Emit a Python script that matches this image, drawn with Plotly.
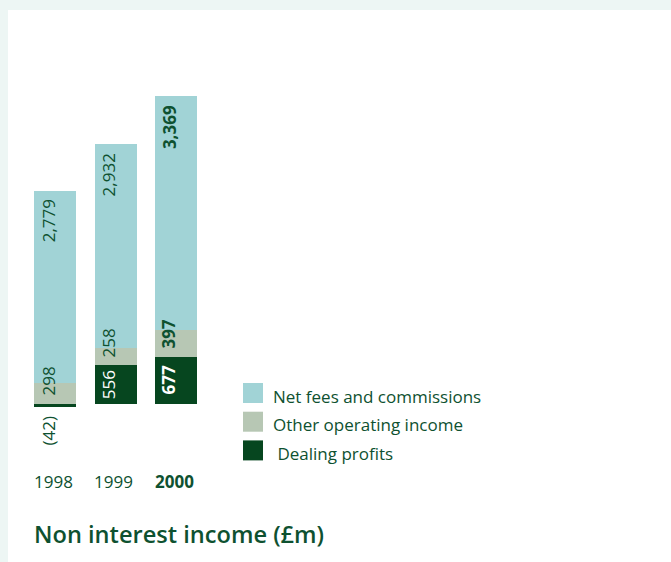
import plotly.graph_objects as go

# Non interest income by component, £m
years = [1998, 1999, 2000]
year_labels = ["1998", "1999", "2000"]
dealing_profits = [-42, 556, 677]
other_operating = [298, 258, 397]
net_fees = [2779, 2932, 3369]

series_names = ["Net fees and commissions", "Other operating income", "Dealing profits"]

C_FEES = "#a1d3d6"
C_OTHER = "#b7c7b4"
C_DEAL = "#06461f"
C_TEXT = "#0e5130"
C_BAND = "#edf6f4"
FONT = "Open Sans"

W, H = 671, 562
ZERO_PX = 404          # pixel row of the zero line
PX_PER_UNIT = 0.0693   # vertical scale
X0_PX = 55             # centre of first bar
STEP_PX = 60.5         # distance between bar centres
BAR_PX = 42


def fmt(v):
    return f"({abs(v):,})" if v < 0 else f"{v:,}"


def py(p):
    return 1 - p / H


def px(p):
    return p / W


fig = go.Figure()
for name, vals, col in [
    (series_names[2], dealing_profits, C_DEAL),
    (series_names[1], other_operating, C_OTHER),
    (series_names[0], net_fees, C_FEES),
]:
    fig.add_trace(go.Bar(x=years, y=vals, name=name, marker_color=col,
                         marker_line_width=0, width=BAR_PX / STEP_PX,
                         showlegend=False))

ann = []
for i, yr in enumerate(years):
    bold = yr == 2000
    d, o, f = dealing_profits[i], other_operating[i], net_fees[i]
    pos_base = max(d, 0)
    wrap = (lambda s: f"<b>{s}</b>") if bold else (lambda s: s)
    lab_font = dict(family=FONT, size=17, color=C_TEXT)
    # net fees: near the top of the segment
    ann.append(dict(x=yr, y=pos_base + o + f, text=wrap(fmt(f)), textangle=-90,
                    xanchor="center", yanchor="top", yshift=-7, xshift=-7,
                    showarrow=False, font=lab_font))
    # other operating income: sitting on its base
    ann.append(dict(x=yr, y=pos_base, text=wrap(fmt(o)), textangle=-90,
                    xanchor="center", yanchor="bottom", yshift=6, xshift=-7,
                    showarrow=False, font=lab_font))
    # dealing profits
    if d >= 0:
        ann.append(dict(x=yr, y=d / 2, text=wrap(fmt(d)), textangle=-90,
                        xanchor="center", yanchor="middle", xshift=-7,
                        showarrow=False,
                        font=dict(family=FONT, size=17, color="white")))
    else:
        ann.append(dict(x=yr, y=d, text=wrap(fmt(d)), textangle=-90,
                        xanchor="center", yanchor="top", yshift=-8, xshift=-7,
                        showarrow=False, font=lab_font))
    # year label
    ann.append(dict(x=yr, y=py(481), yref="paper", text=wrap(year_labels[i]),
                    xanchor="center", yanchor="middle", xshift=-2,
                    showarrow=False, font=dict(family=FONT, size=17, color=C_TEXT)))

# legend built from swatches and labels
shapes = [
    dict(type="rect", xref="paper", yref="paper", x0=0, x1=1, y0=py(10), y1=1,
         fillcolor=C_BAND, line_width=0, layer="below"),
    dict(type="rect", xref="paper", yref="paper", x0=0, x1=px(8), y0=0, y1=1,
         fillcolor=C_BAND, line_width=0, layer="below"),
]
legend_cols = [C_FEES, C_OTHER, C_DEAL]
legend_text = [series_names[0], series_names[1], "&nbsp;" + series_names[2]]
for k in range(3):
    top = 383 + k * 28.7
    shapes.append(dict(type="rect", xref="paper", yref="paper",
                       x0=px(243), x1=px(263), y0=py(top + 20), y1=py(top),
                       fillcolor=legend_cols[k], line_width=0))
    ann.append(dict(x=px(271), y=py(top + 13), xref="paper", yref="paper",
                    text=legend_text[k], xanchor="left", yanchor="middle",
                    showarrow=False, font=dict(family=FONT, size=17, color=C_TEXT)))

ann.append(dict(x=px(32), y=py(534), xref="paper", yref="paper",
                text="Non interest income (£m)", xanchor="left", yanchor="middle",
                showarrow=False,
                font=dict(family=FONT, size=23.6, color=C_TEXT, weight=600)))

fig.update_layout(
    width=W, height=H, margin=dict(l=0, r=0, t=0, b=0),
    barmode="relative", bargap=0,
    paper_bgcolor="white", plot_bgcolor="white",
    xaxis=dict(visible=False,
               range=[years[0] - X0_PX / STEP_PX, years[0] + (W - X0_PX) / STEP_PX]),
    yaxis=dict(visible=False,
               range=[-(H - ZERO_PX) / PX_PER_UNIT, ZERO_PX / PX_PER_UNIT]),
    shapes=shapes, annotations=ann,
)

fig.write_html("out.html")
